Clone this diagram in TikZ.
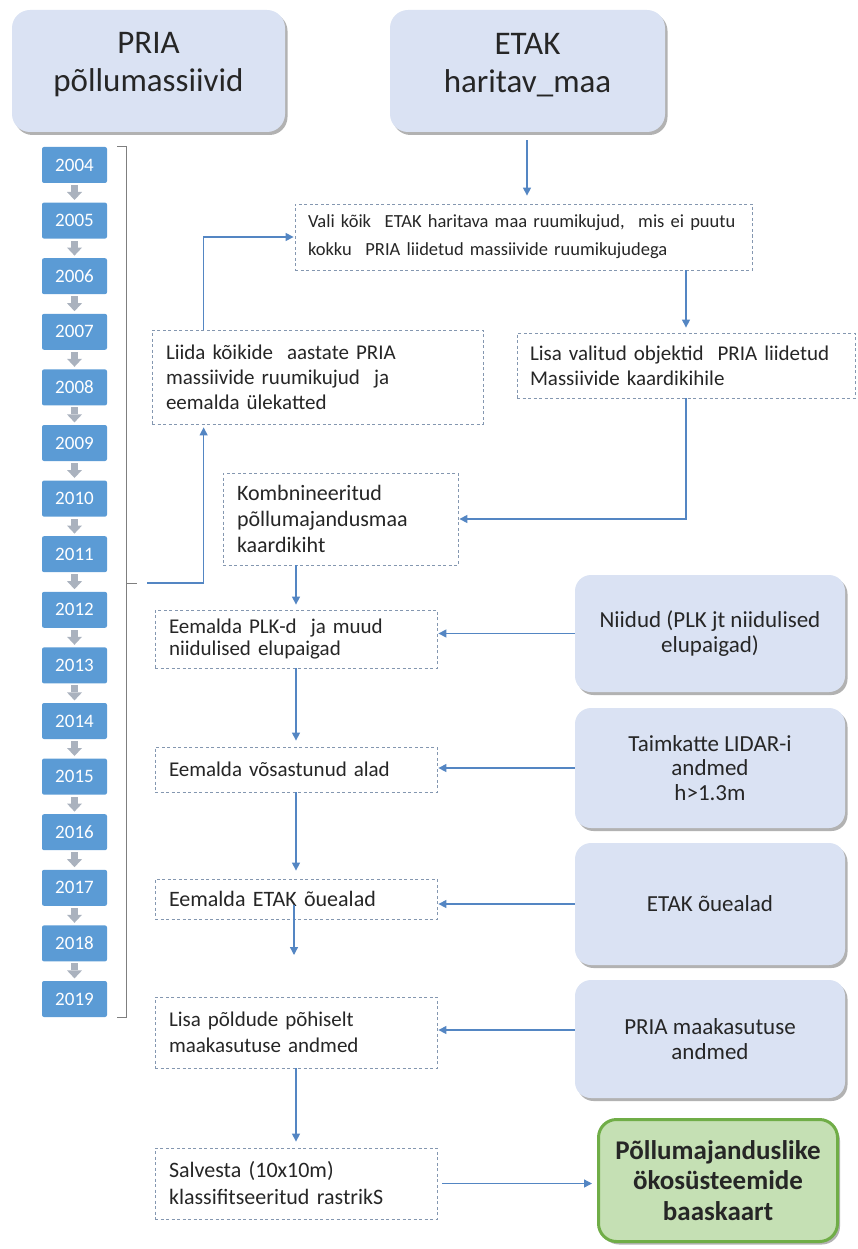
\documentclass[tikz,border=0pt]{standalone}
\usepackage{fontspec}
\setmainfont{Carlito}
\usetikzlibrary{arrows.meta,shadows,calc}
\definecolor{arrowblue}{RGB}{84,134,195}
\definecolor{boxfill}{RGB}{218,226,243}
\definecolor{yearblue}{RGB}{91,155,213}
\definecolor{dashgray}{RGB}{132,151,176}
\definecolor{greenfill}{RGB}{197,224,180}
\definecolor{greenline}{RGB}{112,173,71}
\definecolor{brkgray}{RGB}{127,127,127}
\definecolor{yeararrow}{RGB}{170,178,190}
\definecolor{txt}{RGB}{38,38,38}
\begin{document}
\begin{tikzpicture}[x=1pt,y=-1pt,
  dbox/.style={draw=dashgray, dash pattern=on 3pt off 2.5pt, line width=0.8pt, fill=white,
    inner xsep=14pt, inner ysep=0pt, align=left, font=\fontsize{21}{26}\selectfont, text=txt},
  rbox/.style={fill=boxfill, rounded corners=16pt,
    drop shadow={shadow xshift=2.5pt, shadow yshift=-3pt, fill=black, opacity=0.3},
    minimum width=270pt, inner sep=0pt, align=center, font=\fontsize{23}{24.5}\selectfont, text=txt},
  hbox/.style={fill=boxfill, rounded corners=18pt,
    drop shadow={shadow xshift=2.5pt, shadow yshift=-3pt, fill=black, opacity=0.3},
    minimum height=122pt, inner sep=0pt},
  htext/.style={align=center, font=\fontsize{33}{38}\selectfont, text=txt},
  yearbox/.style={fill=yearblue, rounded corners=2pt, minimum width=65pt, minimum height=36pt,
    inner sep=0pt, text=white, font=\fontsize{19}{20}\selectfont},
  gbox/.style={fill=greenfill, draw=greenline, line width=3pt, rounded corners=18pt,
    drop shadow={shadow xshift=2.5pt, shadow yshift=-3pt, fill=black, opacity=0.3},
    minimum width=239pt, minimum height=122pt, inner sep=0pt, align=center,
    font=\fontsize{27}{30.5}\selectfont\bfseries, text=txt},
  arr/.style={draw=arrowblue, line width=1.3pt, -{Triangle[length=8pt,width=8pt]}},
  brk/.style={draw=brkgray, line width=1pt}
]
\useasboundingbox (0,0) rectangle (857,1249);

% headers
\node[hbox, minimum width=273pt] (pria) at (148.5,71) {};
\node[htext] (priaT) at (148.5,65) {PRIA\\põllumassiivid};
\node[hbox, minimum width=275pt] (etak) at (527.5,71) {};
\node[htext] (etakT) at (527.5,65) {ETAK\\haritav\_maa};

% years
\foreach \yr [count=\k from 0] in {2004,...,2019} {
  \node[yearbox] (y\yr) at (74.5,165+55.6*\k) {\yr};
}
\foreach \k in {0,...,14} {
  \fill[yeararrow] (71,185+55.6*\k) rectangle (78,192+55.6*\k);
  \fill[yeararrow] (67,192+55.6*\k) -- (82,192+55.6*\k) -- (74.5,200+55.6*\k) -- cycle;
}
% bracket
\draw[brk] (117,147) -- (126,147) -- (126,1017) -- (117,1017);
\draw[brk] (126,583) -- (137,583);
\coordinate (bm) at (147,583);

% dashed process boxes
\node[dbox, minimum width=457pt, minimum height=66pt, text width=431pt, inner xsep=13pt, font=\fontsize{18.5}{28}\selectfont] (vali) at (523.5,237)
  {\mbox{Vali kõik\hspace{0.4em} ETAK haritava maa ruumikujud,\hspace{0.4em} mis ei puutu}\\\mbox{kokku\hspace{0.4em} PRIA liidetud massiivide ruumikujudega}};
\node[dbox, minimum width=331pt, minimum height=94pt, text width=303pt, font=\fontsize{21}{25}\selectfont] (liida) at (317.5,377)
  {Liida kõikide~ aastate PRIA\\massiivide ruumikujud~ ja\\eemalda ülekatted};
\node[dbox, minimum width=338pt, minimum height=65pt, text width=312pt, inner xsep=13pt, font=\fontsize{21}{25}\selectfont] (lisav) at (686,365.5)
  {Lisa valitud objektid~ PRIA liidetud\\Massiivide kaardikihile};
\node[dbox, minimum width=235pt, minimum height=92pt, text width=207pt, font=\fontsize{22}{26}\selectfont] (kombi) at (340.5,519)
  {Kombnineeritud\\põllumajandusmaa\\kaardikiht};
\node[dbox, minimum width=282pt, minimum height=58pt, text width=254pt, font=\fontsize{21}{22}\selectfont] (plk) at (296,639)
  {Eemalda PLK-d~ ja muud\\niidulised elupaigad};
\node[dbox, minimum width=282pt, minimum height=45pt, text width=254pt] (vosa) at (296,769.5)
  {Eemalda võsastunud alad};
\node[dbox, minimum width=282pt, minimum height=40pt, text width=254pt, font=\fontsize{22}{26}\selectfont] (etako) at (296,899)
  {Eemalda ETAK õuealad};
\node[dbox, minimum width=282pt, minimum height=71pt, text width=254pt] (lisap) at (296,1032.5)
  {Lisa põldude põhiselt\\maakasutuse andmed};
\node[dbox, minimum width=282pt, minimum height=71pt, text width=254pt, font=\fontsize{22}{27}\selectfont] (salv) at (296,1183.5)
  {Salvesta (10x10m)\\klassifitseeritud rastrikS};

% right data boxes
\node[rbox, minimum height=117pt] (niidud) at (710,633.5) {Niidud (PLK jt niidulised\\elupaigad)};
\node[rbox, minimum height=120pt] (taim) at (710,768) {Taimkatte LIDAR-i\\andmed\\h>1.3m};
\node[rbox, minimum height=122pt] (oue) at (710,904) {ETAK õuealad};
\node[rbox, minimum height=118pt] (priam) at (710,1039) {PRIA maakasutuse\\andmed};
\node[gbox] (green) at (718,1180.5) {Põllumajanduslike\\ökosüsteemide\\baaskaart};

% connectors
\draw[arr, shorten <=8pt, shorten >=8pt] (etak.south -| 527,0) -- (vali.north -| 527,0);
\draw[arr, shorten >=1pt] ($(liida.north west)+(52,0)$) |- (vali.west);
\draw[arr, shorten >=5pt] (lisav.north |- vali.south) -- (lisav.north);
\draw[arr, shorten >=1pt] (lisav.south) |- (kombi.east);
\draw[arr, shorten >=5pt] (plk.north |- kombi.south) -- (plk.north);
\draw[arr, shorten >=1pt] (niidud.west) -- (niidud.west -| plk.east);
\draw[arr, shorten >=6pt] (plk.south) -- (vosa.north);
\draw[arr, shorten >=1pt] (taim.west) -- (taim.west -| vosa.east);
\draw[arr, shorten >=8pt] (vosa.south) -- (etako.north);
\draw[arr, shorten >=1pt] (oue.west) -- (oue.west -| etako.east);
\coordinate (etakoMid) at ($(etako.center)+(-2,6)$);
\coordinate (gapEnd) at (294,955);
\draw[arr] (etakoMid) -- (gapEnd);
\coordinate (pmw) at ($(priam.west)+(0,-9)$);
\draw[arr, shorten >=1pt] (pmw) -- (pmw -| lisap.east);
\draw[arr, shorten >=6pt] (lisap.south) -- (salv.north);
\draw[arr, shorten <=5pt, shorten >=5pt] (salv.east) -- (salv.east -| green.west);
\draw[arr, shorten >=3pt] (bm) -| ($(liida.south west)+(52,0)$);
\end{tikzpicture}
\end{document}
